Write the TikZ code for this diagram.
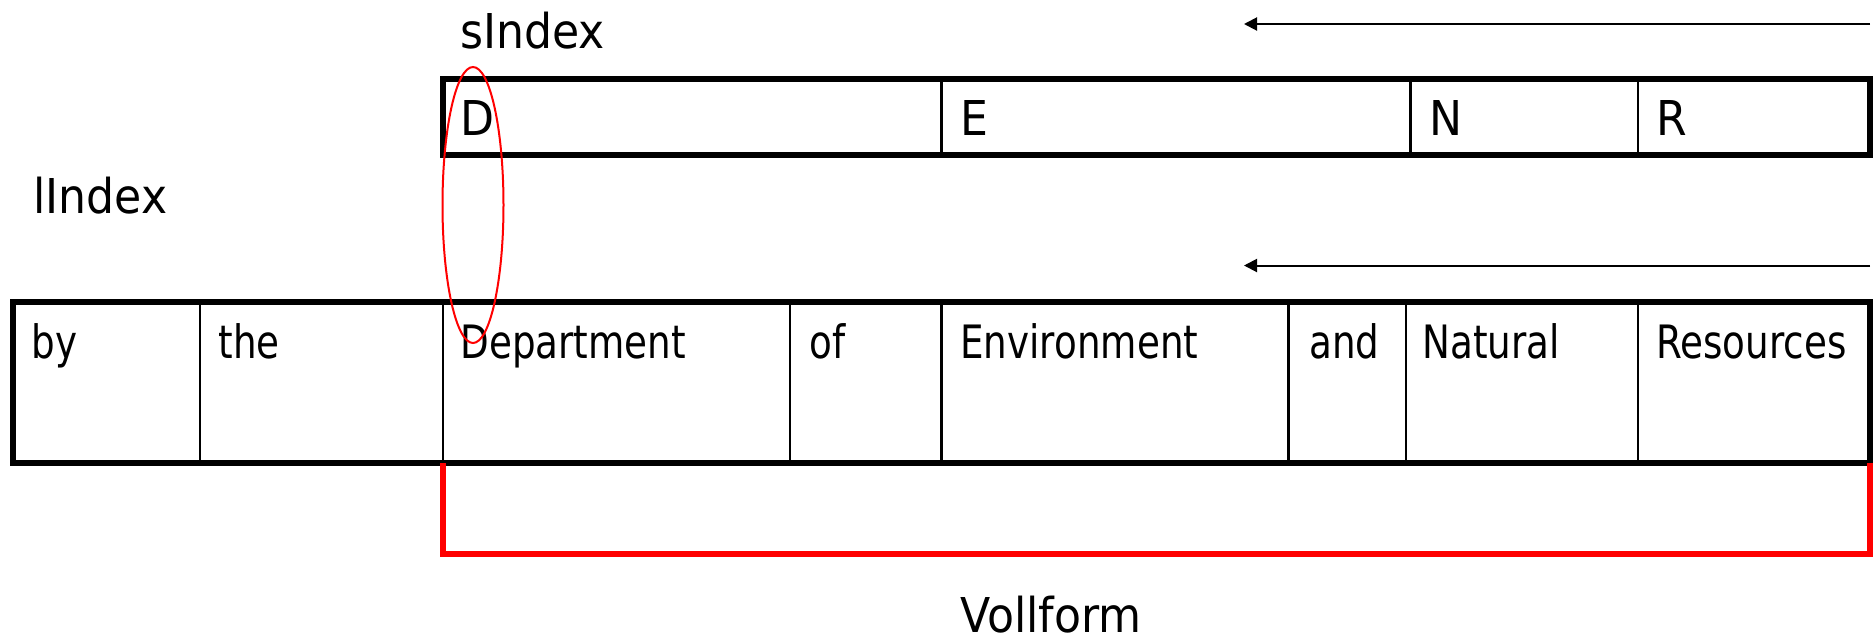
\documentclass[tikz,border=0pt]{standalone}
\usepackage{fontspec}
\setmainfont{DejaVu Sans}[FakeStretch=0.92]
\newfontfamily\cellfont{DejaVu Sans}[FakeStretch=0.81]
\usetikzlibrary{arrows.meta}
\begin{document}
\begin{tikzpicture}[x=0.5pt,y=-0.5pt,
  big/.style={font=\fontsize{24}{28}\selectfont, inner sep=0pt, anchor=base west},
  celltext/.style={font=\cellfont\fontsize{23}{27}\selectfont, inner sep=0pt, anchor=base west},
  boxframe/.style={line width=3pt, line join=miter},
  divline/.style={line width=1.25pt},
  dirarrow/.style={line width=1pt, -{Triangle[length=6.5pt,width=6.5pt]}},
  redline/.style={draw=red, line width=2.6pt, line join=miter},
  redring/.style={draw=red, line width=1pt},
]
\useasboundingbox (0,0) rectangle (1876,639);

% labels
\node[big] (sidx) at (460,48) {sIndex};
\node[big] (lidx) at (33,213) {lIndex};
\node[big] (voll) at (960,632) {Vollform};

% arrows
\coordinate (a1r) at (1870,24);
\coordinate (a1l) at (1244,24);
\coordinate (a2r) at (1870,265.5);
\coordinate (a2l) at (1244,265.5);
\draw[dirarrow] (a1r) -- (a1l);
\draw[dirarrow] (a2r) -- (a2l);

% top box (short form)
\coordinate (tnw) at (443,79);
\coordinate (tse) at (1870,154.5);
\foreach \x in {941.6,1410.5,1638} \draw[divline] (\x,79) -- (\x,154.5);
\draw[boxframe] (tnw) rectangle (tse);
\node[big] (sD) at (460,135) {D};
\node[big] (sE) at (960,135) {E};
\node[big] (sN) at (1429,135) {N};
\node[big] (sR) at (1656,135) {R};

% bottom box (long form)
\coordinate (bnw) at (13,301.5);
\coordinate (bse) at (1870,463);
\foreach \x in {200,443,790,941.6,1288.5,1406,1638} \draw[divline] (\x,301.5) -- (\x,463);
\draw[boxframe] (bnw) rectangle (bse);
\node[celltext] (w1) at (31,358) {by};
\node[celltext] (w2) at (218,358) {the};
\node[celltext] (w3) at (460,358) {Department};
\node[celltext] (w4) at (809,358) {of};
\node[celltext] (w5) at (960,358) {Environment};
\node[celltext] (w6) at (1309,358) {and};
\node[celltext] (w7) at (1422,358) {Natural};
\node[celltext] (w8) at (1656,358) {Resources};

% red highlight
\draw[redring] (473,205) ellipse [x radius=30.5, y radius=138];
\coordinate (rbl) at (443,463);
\coordinate (rbr) at (1870,463);
\draw[redline] (rbl) -- (443,554) -- (1870,554) -- (rbr);
\end{tikzpicture}
\end{document}
